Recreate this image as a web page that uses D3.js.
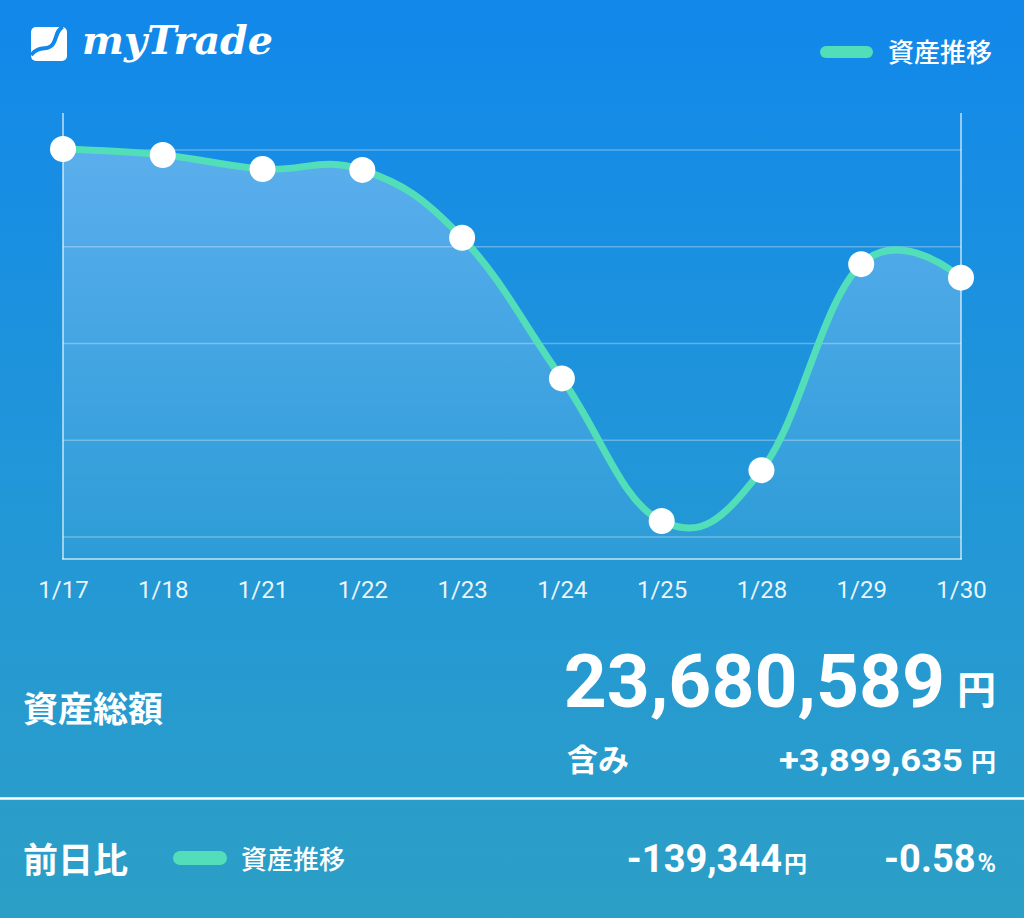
<!DOCTYPE html>
<html><head><meta charset="utf-8">
<script src="https://cdn.jsdelivr.net/npm/d3@7"></script>
<style>html,body{margin:0;padding:0;overflow:hidden;background:#1e8fd8}</style>
</head><body>
<svg id="c" width="1024" height="918"></svg>
<script>
const dates = ["1/17","1/18","1/21","1/22","1/23","1/24","1/25","1/28","1/29","1/30"];
const assets = [25010000,24948000,24804000,24794000,24093000,22639000,21165000,21691000,23819933,23680589];
const gridValues = [25000000,24000000,23000000,22000000,21000000];
const seriesName = "資産推移";
const totalLabel = "資産総額";
const totalValue = "23,680,589";
const unrealLabel = "含み";
const unrealValue = "+3,899,635";
const dayLabel = "前日比";
const dayDiff = "-139,344";
const dayPct = "-0.58";

const svg = d3.select("#c");
const W = 1024, H = 918;
const defs = svg.append("defs");
const bg = defs.append("linearGradient").attr("id","bg").attr("x1",0).attr("y1",0).attr("x2",0).attr("y2",1);
bg.append("stop").attr("offset","0").attr("stop-color","#1188ea");
bg.append("stop").attr("offset","0.5").attr("stop-color","#2196d9");
bg.append("stop").attr("offset","1").attr("stop-color","#2c9fc6");
const fg = defs.append("linearGradient").attr("id","fillg").attr("gradientUnits","userSpaceOnUse")
  .attr("x1",0).attr("y1",113).attr("x2",0).attr("y2",559);
fg.append("stop").attr("offset","0").attr("stop-color","#ffffff").attr("stop-opacity",0.32);
fg.append("stop").attr("offset","1").attr("stop-color","#ffffff").attr("stop-opacity",0.04);

svg.append("rect").attr("width",W).attr("height",H).attr("fill","url(#bg)");

// scales
const x = d3.scalePoint().domain(dates).range([63,961]);
const y = d3.scaleLinear().domain([21000000,25000000]).range([537,150]);
const yBottom = 559, yTop = 113;

// grid
svg.append("g").selectAll("line").data(gridValues).join("line")
  .attr("x1",63).attr("x2",961).attr("y1",d=>y(d)).attr("y2",d=>y(d))
  .attr("stroke","rgba(255,255,255,0.3)").attr("stroke-width",1.5);

// fill area
const curve = d3.curveCardinal.tension(-0.2);
const area = d3.area().x((d,i)=>x(dates[i])).y0(yBottom).y1(d=>y(d)).curve(curve);
svg.append("path").datum(assets).attr("d",area).attr("fill","url(#fillg)");

// frame
const frame = "rgba(255,255,255,0.55)";
svg.append("line").attr("x1",63).attr("x2",63).attr("y1",yTop).attr("y2",yBottom).attr("stroke",frame).attr("stroke-width",2);
svg.append("line").attr("x1",961).attr("x2",961).attr("y1",yTop).attr("y2",yBottom).attr("stroke",frame).attr("stroke-width",2);
svg.append("line").attr("x1",62).attr("x2",962).attr("y1",yBottom).attr("y2",yBottom).attr("stroke",frame).attr("stroke-width",2);

// line
const line = d3.line().x((d,i)=>x(dates[i])).y(d=>y(d)).curve(curve);
svg.append("path").datum(assets).attr("d",line).attr("fill","none").attr("stroke","#52deb8").attr("stroke-width",7).attr("stroke-linecap","round");

// points
svg.append("g").selectAll("circle").data(assets).join("circle")
  .attr("cx",(d,i)=>x(dates[i])).attr("cy",d=>y(d)).attr("r",13).attr("fill","#ffffff");

// x labels
const xAxis = d3.axisBottom(x).tickSize(0).tickPadding(0);
const gx = svg.append("g").attr("transform",`translate(0,598)`).call(xAxis);
gx.select(".domain").remove();
gx.selectAll("text").attr("fill","rgba(255,255,255,0.92)").attr("font-family","Roboto, 'Noto Sans', sans-serif")
  .attr("font-size",24).attr("dy",0);

const JP = "'Noto Sans CJK JP', 'Noto Sans', sans-serif";
const NUM = "Roboto, 'Noto Sans', sans-serif";

// logo
const logo = svg.append("g");
logo.append("rect").attr("x",31).attr("y",27).attr("width",36).attr("height",34).attr("rx",5).attr("fill","#ffffff");
logo.append("path").attr("d","M31,55 C40,44 48,52 53,44 C57,38 56,30 63,27")
  .attr("fill","none").attr("stroke","#1188ea").attr("stroke-width",4);
logo.append("text").attr("x",82).attr("y",54).text("myTrade")
  .attr("font-family","'DejaVu Serif', serif").attr("font-style","italic").attr("font-weight","bold")
  .attr("font-size",40).attr("fill","#ffffff").attr("textLength",191).attr("lengthAdjust","spacingAndGlyphs");

// legend top
svg.append("rect").attr("x",820).attr("y",46).attr("width",53).attr("height",12).attr("rx",6).attr("fill","#52deb8");
svg.append("text").attr("x",888).attr("y",62).text(seriesName).attr("font-family",JP).attr("font-size",26).attr("font-weight",500).attr("fill","#fff");

// totals
svg.append("text").attr("x",23).attr("y",722).text(totalLabel).attr("font-family",JP).attr("font-size",35).attr("font-weight","bold").attr("fill","#fff");
svg.append("text").attr("x",945).attr("y",707).attr("text-anchor","end").text(totalValue).attr("font-family",NUM).attr("font-size",75).attr("font-weight","bold")
  .attr("fill","#fff");
svg.append("text").attr("x",996).attr("y",704).attr("text-anchor","end").text("円").attr("font-family",JP).attr("font-size",39).attr("font-weight","bold").attr("fill","#fff");

svg.append("text").attr("x",567).attr("y",771).text(unrealLabel).attr("font-family",JP).attr("font-size",31).attr("font-weight","bold").attr("fill","#fff");
svg.append("text").attr("x",779).attr("y",771).text(unrealValue).attr("font-family",NUM).attr("font-size",31).attr("font-weight","bold")
  .attr("fill","#fff").attr("textLength",184).attr("lengthAdjust","spacingAndGlyphs");
svg.append("text").attr("x",996).attr("y",771).attr("text-anchor","end").text("円").attr("font-family",JP).attr("font-size",25).attr("font-weight","bold").attr("fill","#fff");

// separator
svg.append("line").attr("x1",0).attr("x2",W).attr("y1",798.5).attr("y2",798.5).attr("stroke","#ffffff").attr("stroke-width",2.5);

// bottom row
svg.append("text").attr("x",23).attr("y",873).text(dayLabel).attr("font-family",JP).attr("font-size",35).attr("font-weight","bold").attr("fill","#fff");
svg.append("rect").attr("x",173).attr("y",851).attr("width",54).attr("height",14).attr("rx",7).attr("fill","#52deb8");
svg.append("text").attr("x",241).attr("y",869).text(seriesName).attr("font-family",JP).attr("font-size",26).attr("font-weight",500).attr("fill","#fff");
const t3 = svg.append("text").attr("x",807).attr("y",872).attr("text-anchor","end").attr("fill","#fff").attr("font-weight","bold");
t3.append("tspan").text(dayDiff).attr("font-family",NUM).attr("font-size",38);
t3.append("tspan").text("円").attr("font-family",JP).attr("font-size",23).attr("dx",2);
const t4 = svg.append("text").attr("x",996).attr("y",872).attr("text-anchor","end").attr("fill","#fff").attr("font-weight","bold");
t4.append("tspan").text(dayPct).attr("font-family",NUM).attr("font-size",38);
t4.append("tspan").text("%").attr("font-family",NUM).attr("font-size",25).attr("dx",2);
</script>
</body></html>
